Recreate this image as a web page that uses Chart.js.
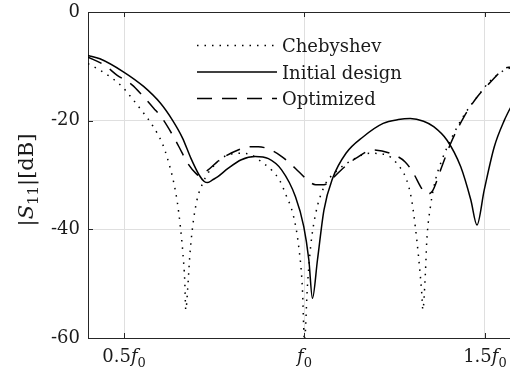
<!DOCTYPE html>
<html>
<head>
<meta charset="utf-8">
<script src="https://cdn.jsdelivr.net/npm/chart.js@4.4.0/dist/chart.umd.min.js"></script>
<style>
  html, body { margin: 0; padding: 0; background: #fff; overflow: hidden; width: 510px; height: 376px; }
  canvas { display: block; }
</style>
</head>
<body>
<canvas id="c" width="525" height="376"></canvas>
<script>
// Frequency axis in units of f0, reflection coefficient in dB
const xTickValues = [0.5, 1, 1.5];
const xTickPrefixes = ['0.5', '', '1.5'];   // each label is prefix + f0
const yTickValues = [0, -20, -40, -60];

const seriesNames = ['Chebyshev', 'Initial design', 'Optimized'];

const chebFreq = [0.400, 0.433, 0.461, 0.494, 0.522, 0.554, 0.578, 0.606, 0.620, 0.638, 0.648, 0.656, 0.663, 0.668, 0.671, 0.676, 0.682, 0.690, 0.702, 0.718, 0.732, 0.750, 0.778, 0.825, 0.853, 0.881, 0.909, 0.933, 0.947, 0.970, 0.984, 0.994, 1.000, 1.008, 1.017, 1.031, 1.054, 1.087, 1.134, 1.180, 1.227, 1.255, 1.283, 1.297, 1.307, 1.316, 1.325, 1.328, 1.335, 1.339, 1.349, 1.363, 1.381, 1.409, 1.442, 1.479, 1.517, 1.554, 1.570];
const chebDb   = [-9.5, -10.7, -11.9, -13.7, -15.9, -18.6, -20.8, -24.2, -26.9, -31.5, -35.2, -39.5, -44.4, -49.3, -54.8, -51.2, -45.0, -39.5, -34.6, -31.5, -29.7, -28.2, -26.6, -26.0, -26.3, -27.6, -29.1, -31.2, -33.4, -37.7, -43.2, -50.6, -60.5, -50.6, -43.2, -37.1, -32.2, -29.4, -27.2, -26.0, -26.3, -27.8, -30.9, -34.6, -39.5, -45.0, -51.8, -54.8, -48.1, -42.0, -35.8, -30.9, -27.2, -23.0, -19.0, -15.6, -12.5, -10.7, -10.3];

const initFreq = [0.400, 0.433, 0.498, 0.554, 0.601, 0.634, 0.662, 0.685, 0.708, 0.722, 0.732, 0.745, 0.760, 0.788, 0.825, 0.863, 0.900, 0.937, 0.975, 0.998, 1.012, 1.022, 1.036, 1.054, 1.078, 1.115, 1.162, 1.218, 1.260, 1.293, 1.330, 1.358, 1.395, 1.433, 1.461, 1.478, 1.498, 1.526, 1.554, 1.582];
const initDb   = [-8.0, -8.6, -11.0, -13.7, -16.8, -19.9, -23.2, -26.9, -30.0, -31.2, -31.4, -30.9, -30.3, -28.8, -27.2, -26.6, -27.0, -29.1, -34.0, -39.5, -45.6, -52.7, -45.6, -36.4, -30.6, -26.0, -23.0, -20.5, -19.8, -19.6, -20.1, -21.1, -23.6, -28.5, -34.6, -39.2, -32.8, -24.8, -19.9, -16.2];

const optFreq = [0.400, 0.446, 0.480, 0.522, 0.550, 0.582, 0.606, 0.634, 0.652, 0.676, 0.699, 0.708, 0.732, 0.765, 0.816, 0.853, 0.872, 0.900, 0.937, 0.975, 1.003, 1.031, 1.054, 1.078, 1.106, 1.143, 1.190, 1.237, 1.279, 1.302, 1.325, 1.338, 1.353, 1.377, 1.405, 1.442, 1.479, 1.517, 1.554, 1.573];
const optDb   = [-8.3, -9.8, -11.6, -13.4, -15.3, -17.7, -19.6, -22.6, -24.8, -27.8, -29.7, -30.1, -29.1, -27.2, -25.4, -24.8, -24.8, -25.2, -26.6, -28.8, -30.6, -31.8, -31.8, -30.6, -28.8, -26.9, -25.4, -26.0, -27.6, -29.7, -32.5, -33.5, -33.1, -29.1, -24.2, -19.3, -15.6, -12.8, -10.4, -10.1];

const pairs = (xs, ys) => xs.map((x, i) => ({ x: x, y: ys[i] }));

const INK = '#1a1a1a';
const AXIS = '#262626';
const SERIF = '"DejaVu Serif", serif';

// Box, inward tick marks, composite labels and legend
const decorations = {
  id: 'decorations',
  afterDraw(chart) {
    const { ctx, chartArea: a, scales: { x, y } } = chart;
    ctx.save();
    ctx.strokeStyle = AXIS;
    ctx.lineWidth = 1;
    ctx.setLineDash([]);
    ctx.beginPath();
    ctx.moveTo(a.left, a.top + 0.5); ctx.lineTo(a.right, a.top + 0.5);
    ctx.moveTo(a.right - 0.5, a.top); ctx.lineTo(a.right - 0.5, a.bottom);
    const L = 5;
    xTickValues.forEach(v => {
      const px = Math.round(x.getPixelForValue(v)) + 0.5;
      ctx.moveTo(px, a.bottom); ctx.lineTo(px, a.bottom - L);
      ctx.moveTo(px, a.top); ctx.lineTo(px, a.top + L);
    });
    yTickValues.forEach(v => {
      const py = Math.round(y.getPixelForValue(v)) + 0.5;
      ctx.moveTo(a.left, py); ctx.lineTo(a.left + L, py);
      ctx.moveTo(a.right, py); ctx.lineTo(a.right - L, py);
    });
    ctx.stroke();

    // x tick labels: prefix + italic f with subscript 0
    ctx.fillStyle = INK;
    ctx.textBaseline = 'alphabetic';
    ctx.textAlign = 'left';
    const base = a.bottom + 24;
    xTickValues.forEach((v, i) => {
      const parts = [];
      if (xTickPrefixes[i]) parts.push({ t: xTickPrefixes[i], f: '18px ' + SERIF, dy: 0 });
      parts.push({ t: 'f', f: 'italic 18px ' + SERIF, dy: 0 });
      parts.push({ t: '0', f: '13px ' + SERIF, dy: 5 });
      let w = 0;
      parts.forEach(p => { ctx.font = p.f; p.w = ctx.measureText(p.t).width; w += p.w; });
      let cx = x.getPixelForValue(v) - w / 2;
      parts.forEach(p => { ctx.font = p.f; ctx.fillText(p.t, cx, base + p.dy); cx += p.w; });
    });

    // y axis title |S11|[dB], rotated
    const tparts = [
      { t: '|', f: '21px ' + SERIF, dy: 0 },
      { t: 'S', f: 'italic 21px ' + SERIF, dy: 0 },
      { t: '11', f: '15px ' + SERIF, dy: 5 },
      { t: '|[dB]', f: '21px ' + SERIF, dy: 0 }
    ];
    let tw = 0;
    tparts.forEach(p => { ctx.font = p.f; p.w = ctx.measureText(p.t).width; tw += p.w; });
    ctx.save();
    ctx.translate(33, 180);
    ctx.rotate(-Math.PI / 2);
    let tx = -tw / 2;
    tparts.forEach(p => { ctx.font = p.f; ctx.fillText(p.t, tx, p.dy); tx += p.w; });
    ctx.restore();

    // legend
    const rows = [45.5, 72, 98.5];
    chart.data.datasets.forEach((ds, i) => {
      const yy = rows[i];
      ctx.strokeStyle = ds.borderColor;
      ctx.lineWidth = ds.borderWidth;
      ctx.setLineDash(ds.borderDash || []);
      ctx.beginPath();
      ctx.moveTo(197, yy); ctx.lineTo(277, yy);
      ctx.stroke();
      ctx.setLineDash([]);
      ctx.font = '18px ' + SERIF;
      ctx.fillStyle = INK;
      ctx.fillText(ds.label, 282, yy + 6.5);
    });
    ctx.restore();
  }
};

new Chart(document.getElementById('c'), {
  type: 'line',
  data: {
    datasets: [
      { label: seriesNames[0], data: pairs(chebFreq, chebDb), borderColor: '#000', borderWidth: 1.5, borderDash: [1.5, 6], pointRadius: 0, cubicInterpolationMode: 'monotone' },
      { label: seriesNames[1], data: pairs(initFreq, initDb), borderColor: '#000', borderWidth: 1.5, pointRadius: 0, cubicInterpolationMode: 'monotone' },
      { label: seriesNames[2], data: pairs(optFreq, optDb), borderColor: '#000', borderWidth: 1.5, borderDash: [15, 10], pointRadius: 0, cubicInterpolationMode: 'monotone' }
    ]
  },
  options: {
    responsive: false,
    animation: false,
    events: [],
    layout: { padding: { left: 0, right: 4, top: 12, bottom: 0 } },
    plugins: { legend: { display: false }, tooltip: { enabled: false } },
    scales: {
      x: {
        type: 'linear', min: 0.4, max: 1.6,
        afterBuildTicks: s => { s.ticks = xTickValues.map(v => ({ value: v })); },
        afterFit: s => { s.height = 38; s.paddingLeft = 0; s.paddingRight = 0; },
        ticks: { display: false },
        grid: { color: '#dfdfdf', lineWidth: 1, drawTicks: false },
        border: { display: true, color: AXIS, width: 1 }
      },
      y: {
        type: 'linear', min: -60, max: 0,
        afterBuildTicks: s => { s.ticks = yTickValues.map(v => ({ value: v })); },
        afterFit: s => { s.width = 88; s.paddingTop = 0; s.paddingBottom = 0; },
        ticks: { padding: 8, color: INK, font: { family: SERIF, size: 18 }, callback: v => String(v) },
        grid: { color: '#dfdfdf', lineWidth: 1, drawTicks: false },
        border: { display: true, color: AXIS, width: 1 }
      }
    }
  },
  plugins: [decorations]
});
</script>
</body>
</html>
